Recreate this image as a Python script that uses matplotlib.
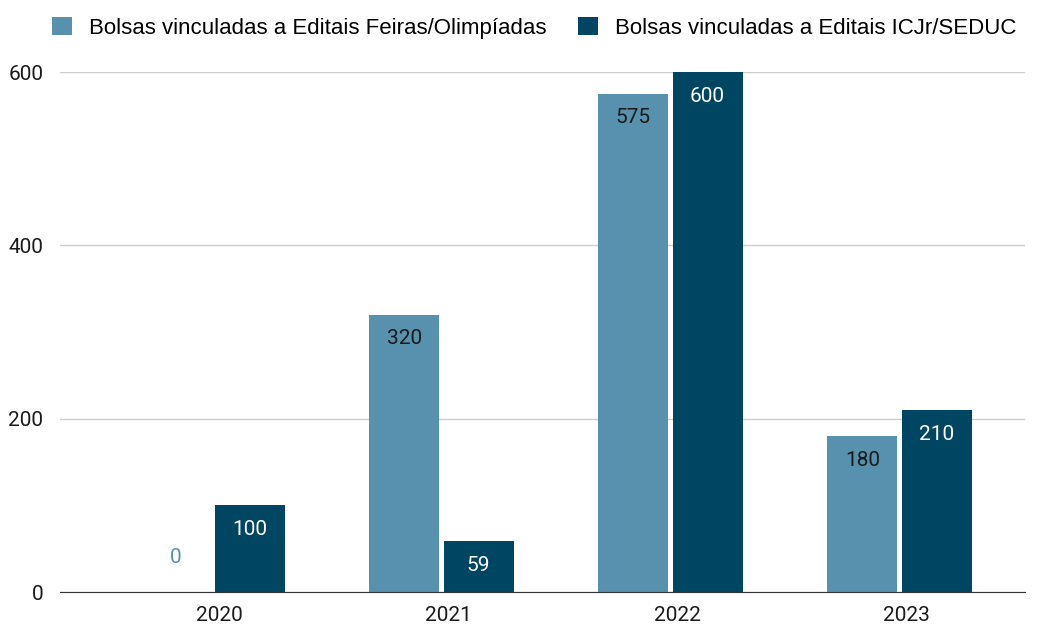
import matplotlib
matplotlib.use("Agg")
import matplotlib.pyplot as plt
import numpy as np

years = ["2020", "2021", "2022", "2023"]
feiras = [0, 320, 575, 180]
icjr = [100, 59, 600, 210]
series_names = ["Bolsas vinculadas a Editais Feiras/Olimpíadas",
                "Bolsas vinculadas a Editais ICJr/SEDUC"]

light = "#5891ad"
dark = "#004561"

plt.rcParams["font.family"] = ["Roboto", "DejaVu Sans"]

fig = plt.figure(figsize=(10.4, 6.26), dpi=100)
ax = fig.add_axes([60 / 1040, 34 / 626, 965 / 1040, 520 / 626])

x = np.arange(len(years))
w = 0.305
off = 0.162
b1 = ax.bar(x - off, feiras, w, color=light, label=series_names[0], zorder=3)
b2 = ax.bar(x + off, icjr, w, color=dark, label=series_names[1], zorder=3)

for bars, vals, tc in ((b1, feiras, "#1a1a1a"), (b2, icjr, "white")):
    for rect, v in zip(bars, vals):
        cx = rect.get_x() + rect.get_width() / 2
        if v == 0:
            ax.annotate(str(v), (cx, 0), xytext=(0, 25), textcoords="offset points",
                        ha="center", va="center", fontsize=15, color=light)
        else:
            ax.annotate(str(v), (cx, v), xytext=(0, -17.5), textcoords="offset points",
                        ha="center", va="center", fontsize=15, color=tc, zorder=4)

ax.set_xlim(-0.666, 3.548)
ax.set_ylim(0, 600)
ax.set_yticks([0, 200, 400, 600])
ax.set_xticks(x + 0.03)
ax.set_xticklabels(years)
ax.tick_params(axis="both", length=0, labelsize=15, colors="#1a1a1a")
ax.tick_params(axis="x", pad=10)
ax.tick_params(axis="y", pad=12)
ax.yaxis.grid(True, color="#cccccc", linewidth=1, zorder=0)
for s in ["top", "right", "left"]:
    ax.spines[s].set_visible(False)
ax.spines["bottom"].set_color("#333333")
ax.spines["bottom"].set_zorder(5)

fig.legend(loc="upper left", bbox_to_anchor=(32 / 1040, 1.005), ncol=2, frameon=False,
           prop={"family": ["Liberation Sans", "DejaVu Sans"], "size": 16},
           handlelength=0.9, handleheight=0.9, columnspacing=1.45,
           handletextpad=0.75)

fig.savefig("out.png", dpi=100)
